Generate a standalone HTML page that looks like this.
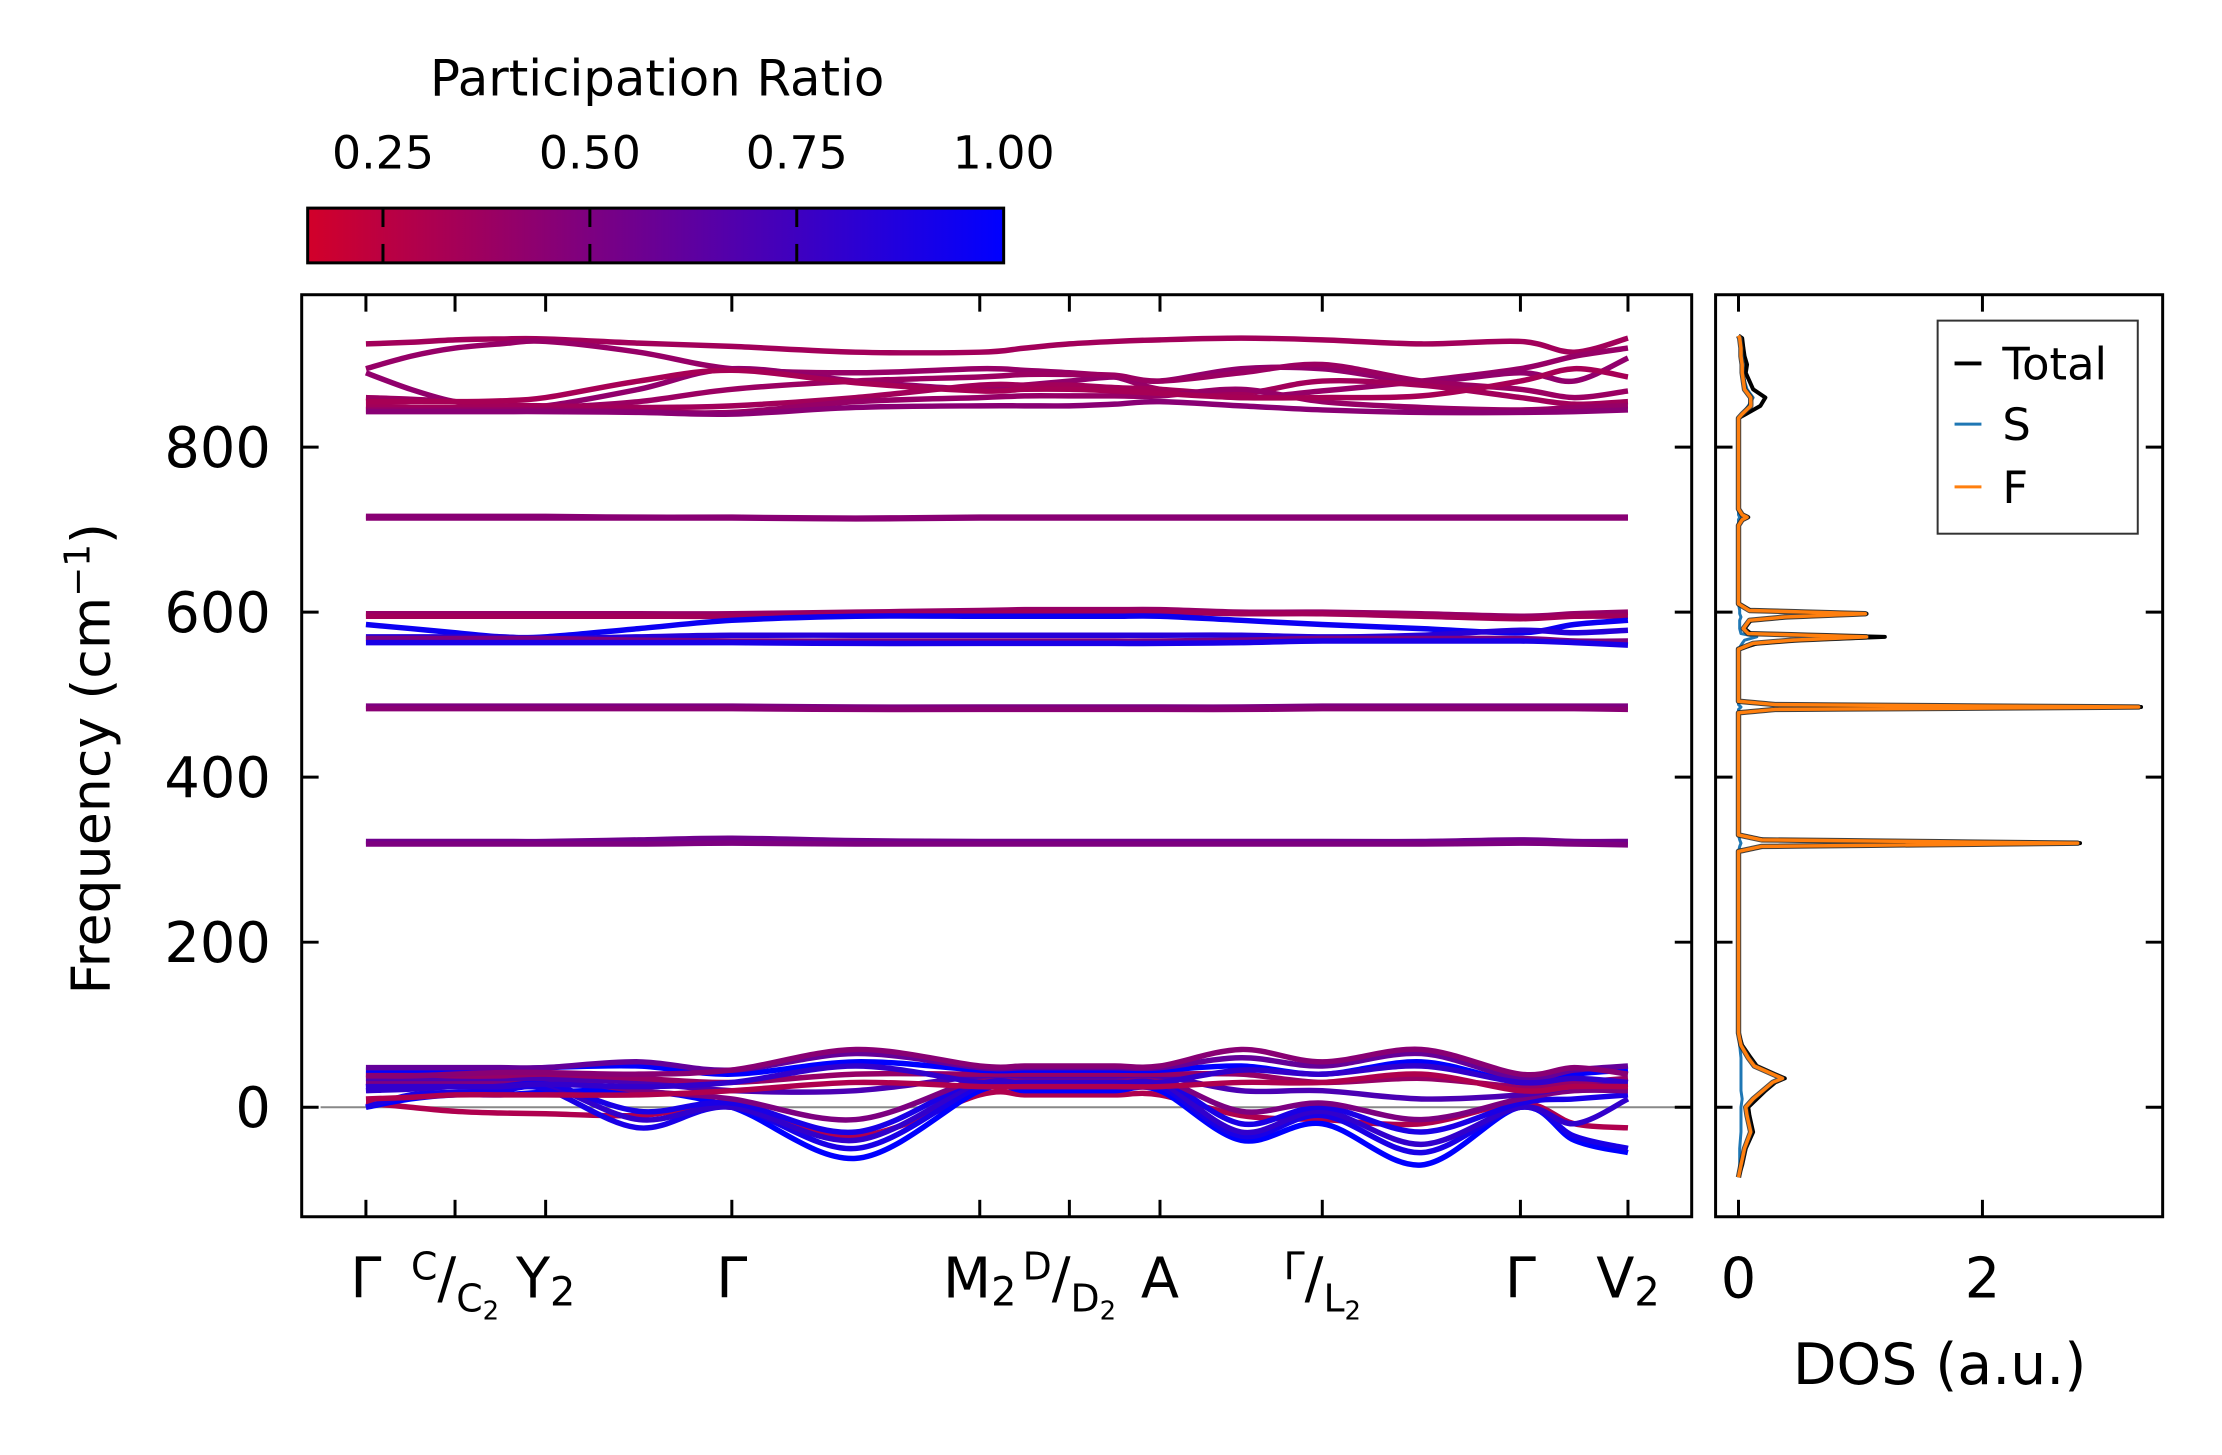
<!DOCTYPE html>
<html><head><meta charset="utf-8"><style>
html,body{margin:0;padding:0;background:#fff}
svg{display:block;font-family:"DejaVu Sans","Liberation Sans",sans-serif}
</style></head><body>
<svg id="fig" width="2222" height="1455" viewBox="0 0 2222 1455" xmlns="http://www.w3.org/2000/svg">
<defs>
<linearGradient id="cmap" x1="0" x2="1" y1="0" y2="0">
<stop offset="0" stop-color="rgb(210,0,42)"/><stop offset="1" stop-color="rgb(0,0,255)"/>
</linearGradient>
<clipPath id="clipMain"><rect x="303" y="296" width="1396" height="926"/></clipPath>
<clipPath id="clipDos"><rect x="1723" y="296" width="449" height="926"/></clipPath>
</defs>
<g transform="scale(0.9957)">
<g id="colorbar">
<text x="660" y="96" font-size="50" text-anchor="middle">Participation Ratio</text>
<rect x="309" y="209" width="699" height="55" fill="url(#cmap)" stroke="#000" stroke-width="3"/>
<g id="cbticks"></g>
</g>
<g id="main">
<g id="bands" clip-path="url(#clipMain)"></g>
<rect x="303" y="296" width="1396" height="926" fill="none" stroke="#000" stroke-width="3"/>
<g id="mainticks"></g>
<text transform="translate(110,762) rotate(-90)" font-size="54" text-anchor="middle">Frequency (cm<tspan baseline-shift="super" font-size="36">−1</tspan>)</text>
</g>
<g id="dos">
<g id="doslines" clip-path="url(#clipDos)"></g>
<rect x="1723" y="296" width="449" height="926" fill="none" stroke="#000" stroke-width="3"/>
<g id="dosticks"></g>
<text x="1948" y="1390" font-size="57" text-anchor="middle">DOS (a.u.)</text>
<g>
<rect x="1946" y="322" width="201" height="214" fill="#fff" stroke="#333" stroke-width="2"/>
<line x1="1963" y1="365" x2="1990" y2="365" stroke="#000" stroke-width="4"/>
<text x="2011" y="381" font-size="45">Total</text>
<line x1="1963" y1="426" x2="1990" y2="426" stroke="#1f77b4" stroke-width="3"/>
<text x="2011" y="442" font-size="45">S</text>
<line x1="1963" y1="489" x2="1990" y2="489" stroke="#ff7f0e" stroke-width="3"/>
<text x="2011" y="505" font-size="45">F</text>
</g>
</g>
</g>
</svg>
<script>
// ---- data ----
const kTicks = [0, 0.895, 1.805, 3.675, 6.165, 7.065, 7.975, 9.605, 11.595, 12.675];
const kGrid = [0,0.45,0.895,1.35,1.805,2.74,3.675,4.92,6.165,6.615,7.065,7.52,7.975,8.79,9.605,10.6,11.595,12.135,12.675];
const yTicks = [0, 200, 400, 600, 800];
const cbTicks = [0.25, 0.5, 0.75, 1.0];
const cbTickLabels = ["0.25","0.50","0.75","1.00"];
const dosXTicks = [0, 2];
const bandPR = [0.3,1.0,0.9,0.8,0.9,0.5,0.7,0.4,1.0,0.6,0.45,0.8,0.3,
  0.35,0.4,0.42,0.38,0.35,0.4,0.45,0.33,
  0.45,0.45,
  0.4,0.35,0.95,0.85,0.5,0.9,
  0.5,0.45,0.55,0.5];
const bandValues = [
[5,0,-5,-7,-8,-10,0,-35,15,15,15,15,15,-10,-15,-20,5,-20,-25],
[0,10,15,15,18,20,0,-62,20,20,20,20,20,-40,-20,-70,0,-40,-55],
[0,15,18,20,22,-25,0,-50,25,25,25,25,25,-35,-10,-55,0,-35,-50],
[20,22,25,25,28,-15,0,-40,30,30,30,30,30,-30,-5,-45,0,-20,10],
[25,28,30,30,30,-5,5,-30,35,35,35,35,35,-20,0,-30,5,10,15],
[30,30,30,32,35,20,10,-15,35,35,35,35,35,-5,5,-15,10,20,20],
[35,35,35,35,35,30,20,20,38,38,38,38,38,20,20,10,15,25,28],
[40,40,38,38,40,35,30,40,40,40,40,40,40,40,30,35,25,30,35],
[45,45,45,45,48,50,40,55,45,45,45,45,45,50,40,55,30,40,45],
[48,48,48,48,48,55,45,65,48,48,48,48,48,60,50,65,35,45,50],
[38,38,40,42,42,40,45,70,50,50,50,50,50,70,55,70,40,48,40],
[25,25,25,25,28,25,30,50,30,30,30,30,30,45,40,50,30,35,30],
[10,12,15,15,15,15,20,30,25,25,25,25,25,30,30,40,20,25,25],
[925,927,930,931,931,926,922,915,915,920,925,928,930,932,930,925,928,915,932],
[895,910,920,925,928,915,895,890,895,893,890,885,870,860,868,880,895,910,920],
[890,870,855,850,850,870,895,880,870,875,880,885,880,895,895,880,890,880,908],
[860,858,855,850,848,855,870,880,885,888,888,887,880,890,900,880,870,860,868],
[850,848,848,850,850,848,850,860,875,875,875,872,870,865,880,875,860,852,855],
[845,845,845,845,845,843,842,855,860,862,862,862,862,870,855,848,845,848,850],
[843,843,843,843,843,842,840,848,850,850,850,852,855,850,845,842,842,843,845],
[855,855,855,856,860,880,893,878,868,870,870,868,865,860,860,862,880,895,885],
[716,716,716,716,716,715,715,714,715,715,715,715,715,715,715,715,715,715,715],
[714,714,714,714,714,714,714,713,714,714,714,714,714,714,714,714,714,714,714],
[598,598,598,598,598,598,598,600,602,603,603,603,603,600,600,598,595,598,600],
[595,595,595,595,595,595,595,597,598,600,600,600,600,598,598,595,592,595,595],
[585,580,575,570,570,580,590,595,595,595,595,595,595,590,585,580,575,585,590],
[570,570,570,570,568,570,572,572,572,572,572,572,572,572,570,572,578,575,578],
[568,568,568,568,568,566,565,565,565,565,565,565,565,566,568,568,568,565,565],
[563,563,563,563,563,563,563,562,562,562,562,562,562,563,565,565,565,563,560],
[486,486,486,486,486,486,486,485,485,485,485,485,485,485,486,486,486,486,486],
[483,483,483,483,483,483,483,482,482,482,482,482,482,482,483,483,483,483,482],
[322,322,322,322,322,324,326,323,322,322,322,322,322,322,322,322,324,322,322],
[319,319,319,319,319,319,320,319,319,319,319,319,319,319,319,319,320,319,318]
];
const dosFreq = [-85,-70,-50,-30,-10,0,10,20,30,35,40,50,60,75,90,310,316,320,324,330,478,482,485,488,492,555,562,566,570,574,580,590,594,598,602,610,705,712,715,718,725,835,840,850,860,870,880,890,900,910,920,932,935];
const dosTotal = [0.0,0.03,0.06,0.12,0.09,0.08,0.15,0.22,0.3,0.38,0.3,0.15,0.1,0.03,0,0,0.2,2.8,0.2,0,0,0.3,3.3,0.3,0,0,0.15,0.5,1.2,0.1,0.05,0.1,0.4,1.05,0.1,0,0,0.03,0.08,0.03,0,0,0.06,0.18,0.22,0.12,0.09,0.06,0.07,0.05,0.04,0.03,0];
const dosF = [0.0,0.02,0.05,0.1,0.07,0.06,0.12,0.2,0.28,0.36,0.28,0.13,0.08,0.02,0,0,0.19,2.78,0.19,0,0,0.3,3.28,0.3,0,0,0.12,0.45,1.05,0.08,0.04,0.09,0.38,1.04,0.09,0,0,0.03,0.07,0.03,0,0,0.03,0.1,0.1,0.05,0.04,0.03,0.03,0.02,0.02,0.01,0];
const dosS = [0.0,0.01,0.01,0.02,0.02,0.02,0.03,0.02,0.02,0.02,0.02,0.02,0.02,0.01,0,0,0.01,0.02,0.01,0,0,0,0.02,0,0,0,0.03,0.05,0.15,0.02,0.01,0.01,0.02,0.01,0.01,0,0,0,0.01,0,0,0,0.03,0.08,0.12,0.07,0.05,0.03,0.04,0.03,0.02,0.02,0];

// ---- axes ----
const NS = "http://www.w3.org/2000/svg";
const xK = k => 367.5 + k * 100;
const yF = f => 1112 - f * 0.82875;
const xD = d => 1746 + d * 122.5;
const xCb = v => 309 + (v - 0.159) / 0.841 * 699;
function prColor(p){const t=Math.max(0,Math.min(1,(p-0.159)/0.841));return `rgb(${Math.round(210*(1-t))},0,${Math.round(42+213*t)})`;}
function mk(tag, attrs, parent){const e=document.createElementNS(NS,tag);for(const k in attrs)e.setAttribute(k,attrs[k]);parent.appendChild(e);return e;}
function smooth(pts){let d=`M${pts[0][0].toFixed(1)},${pts[0][1].toFixed(1)}`;for(let i=0;i<pts.length-1;i++){const p0=pts[Math.max(0,i-1)],p1=pts[i],p2=pts[i+1],p3=pts[Math.min(pts.length-1,i+2)];const c1=[p1[0]+(p2[0]-p0[0])/6,p1[1]+(p2[1]-p0[1])/6],c2=[p2[0]-(p3[0]-p1[0])/6,p2[1]-(p3[1]-p1[1])/6];d+=`C${c1[0].toFixed(1)},${c1[1].toFixed(1)} ${c2[0].toFixed(1)},${c2[1].toFixed(1)} ${p2[0].toFixed(1)},${p2[1].toFixed(1)}`;}return d;}

// colorbar ticks
const cbt=document.getElementById('cbticks');
cbTicks.forEach((v,i)=>{const x=xCb(v);
 if(v<1){const a=mk('line',{x1:x,y1:209,x2:x,y2:228,stroke:'#000','stroke-width':3},cbt);
 
 
 const b=mk('line',{x1:x,y1:245,x2:x,y2:264,stroke:'#000','stroke-width':3},cbt);
 
 }
 const t=mk('text',{x:x,y:169,'font-size':46,'text-anchor':'middle'},cbt);t.textContent=cbTickLabels[i];
 
 
});

// zero line
const bandsG=document.getElementById('bands');
const zl=mk('line',{x1:322,y1:yF(0),x2:1699,y2:yF(0),stroke:'#888','stroke-width':2},bandsG);


// bands
bandValues.forEach((vals,i)=>{const pts=vals.map((f,j)=>[xK(kGrid[j]),yF(f)]);
 const p=mk('path',{d:smooth(pts),fill:'none',stroke:prColor(bandPR[i]),'stroke-width':5.5,'stroke-linecap':'butt'},bandsG);
 
 
});

// main ticks
const mt=document.getElementById('mainticks');
kTicks.forEach(k=>{const x=xK(k);
 const a=mk('line',{x1:x,y1:1222,x2:x,y2:1205,stroke:'#000','stroke-width':3},mt);
 
 
 const b=mk('line',{x1:x,y1:296,x2:x,y2:313,stroke:'#000','stroke-width':3},mt);
 
 
});
yTicks.forEach(f=>{const y=yF(f);
 const a=mk('line',{x1:303,y1:y,x2:320,y2:y,stroke:'#000','stroke-width':3},mt);
 
 
 const b=mk('line',{x1:1699,y1:y,x2:1682,y2:y,stroke:'#000','stroke-width':3},mt);
 
 
 const t=mk('text',{x:272,y:y+20,'font-size':56,'text-anchor':'end'},mt);t.textContent=String(f);
 
 
});
// k-point labels
const kLabels=[
 '<tspan>Γ</tspan>',
 '<tspan font-size="38" dy="-18">C</tspan><tspan font-size="56" dy="18">/</tspan><tspan font-size="38" dy="14">C</tspan><tspan font-size="26" dy="8">2</tspan>',
 '<tspan>Y</tspan><tspan font-size="40" dy="8">2</tspan>',
 '<tspan>Γ</tspan>',
 '<tspan>M</tspan><tspan font-size="40" dy="8">2</tspan>',
 '<tspan font-size="38" dy="-18">D</tspan><tspan font-size="56" dy="18">/</tspan><tspan font-size="38" dy="14">D</tspan><tspan font-size="26" dy="8">2</tspan>',
 '<tspan>A</tspan>',
 '<tspan font-size="38" dy="-18">Γ</tspan><tspan font-size="56" dy="18">/</tspan><tspan font-size="38" dy="14">L</tspan><tspan font-size="26" dy="8">2</tspan>',
 '<tspan>Γ</tspan>',
 '<tspan>V</tspan><tspan font-size="40" dy="8">2</tspan>'];
kTicks.forEach((k,i)=>{const t=mk('text',{x:xK(k),y:1303,'font-size':56,'text-anchor':'middle'},mt);t.innerHTML=kLabels[i];
 
 
});

// DOS ticks
const dt=document.getElementById('dosticks');
dosXTicks.forEach(d=>{const x=xD(d);
 const a=mk('line',{x1:x,y1:1222,x2:x,y2:1205,stroke:'#000','stroke-width':3},dt);
 
 
 const b=mk('line',{x1:x,y1:296,x2:x,y2:313,stroke:'#000','stroke-width':3},dt);
 
 
 const t=mk('text',{x:x,y:1303,'font-size':56,'text-anchor':'middle'},dt);t.textContent=String(d);
 
 
});
yTicks.forEach(f=>{const y=yF(f);
 const a=mk('line',{x1:1723,y1:y,x2:1740,y2:y,stroke:'#000','stroke-width':3},dt);
 
 
 const b=mk('line',{x1:2172,y1:y,x2:2155,y2:y,stroke:'#000','stroke-width':3},dt);
 
 
});
// DOS curves
const dl=document.getElementById('doslines');
function dpath(vals){return vals.map((v,i)=>(i?'L':'M')+xD(v).toFixed(1)+','+yF(dosFreq[i]).toFixed(1)).join('');}
const c1=mk('path',{d:dpath(dosTotal),fill:'none',stroke:'#000','stroke-width':4,'stroke-linejoin':'round'},dl);


const c2=mk('path',{d:dpath(dosS),fill:'none',stroke:'#1f77b4','stroke-width':3,'stroke-linejoin':'round'},dl);


const c3o=mk('path',{d:dpath(dosF),fill:'none',stroke:'#222','stroke-width':5.5,'stroke-linejoin':'round','stroke-opacity':0.8},dl);


const c3=mk('path',{d:dpath(dosF),fill:'none',stroke:'#ff7f0e','stroke-width':3.5,'stroke-linejoin':'round'},dl);


</script>
</body></html>
